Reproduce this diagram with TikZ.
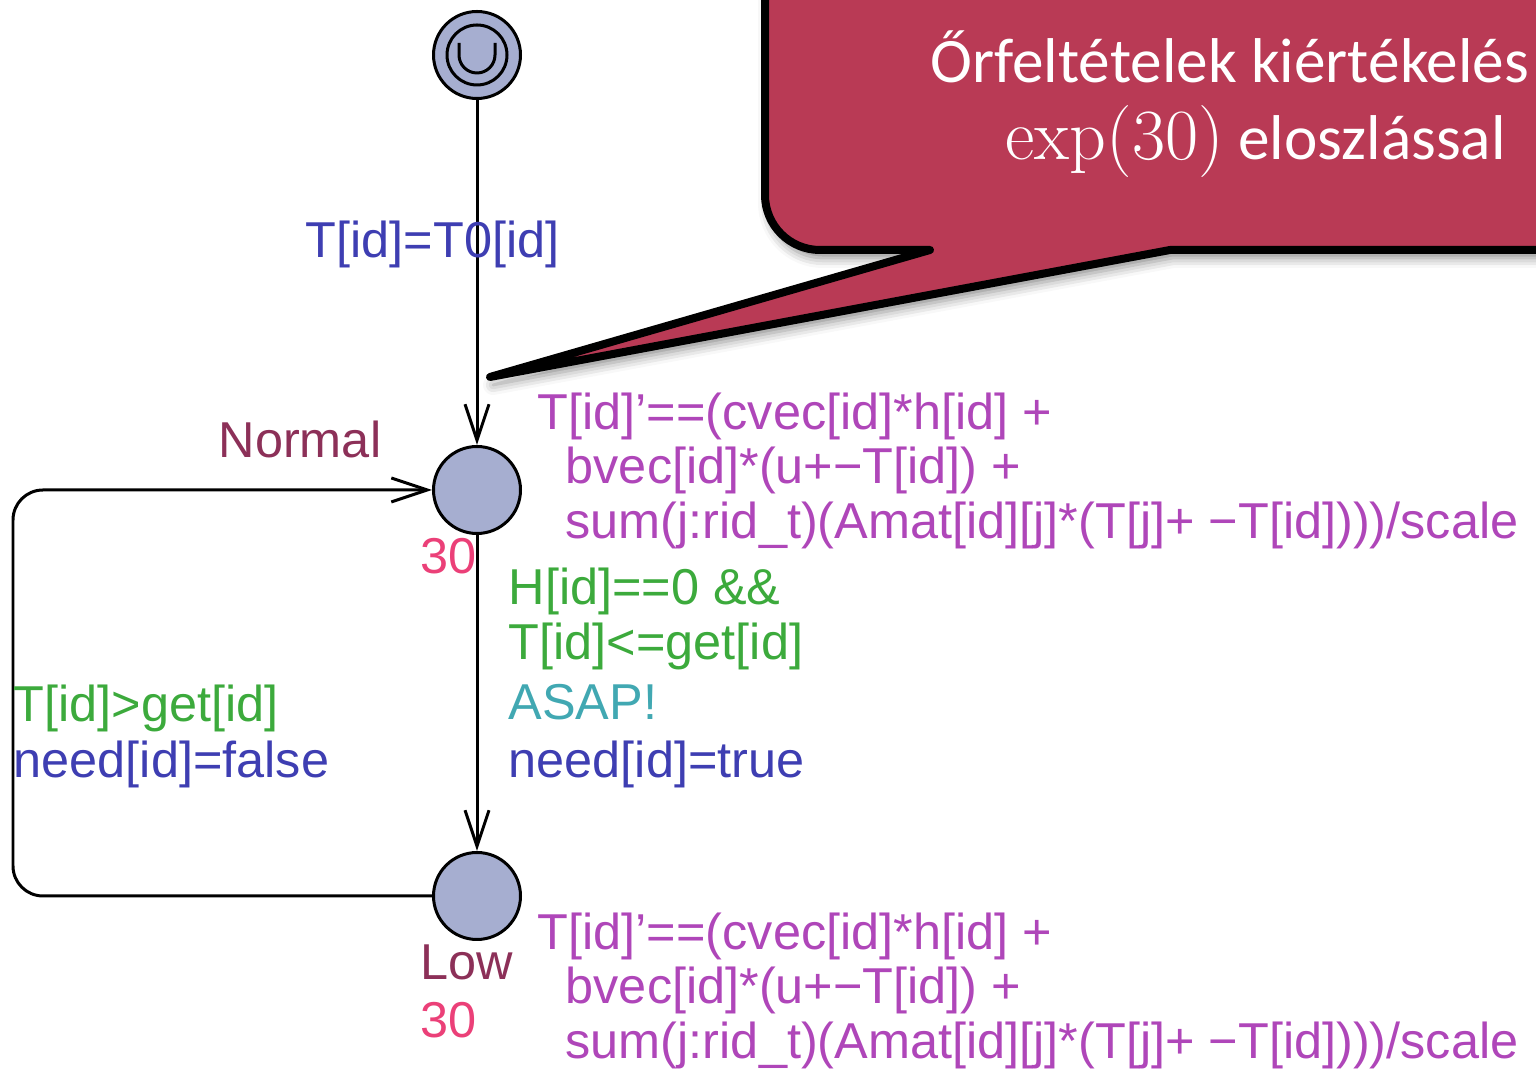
\documentclass[tikz,border=0pt]{standalone}
\usepackage{fontspec}
\newfontfamily\uppfont{Liberation Sans}
\newfontfamily\calloutfont{Carlito}
\usetikzlibrary{arrows.meta,positioning,shadows.blur}

\definecolor{locfill}{RGB}{166,174,208}
\definecolor{namecol}{RGB}{140,48,88}
\definecolor{ratecol}{RGB}{235,64,120}
\definecolor{invcol}{RGB}{175,70,185}
\definecolor{guardcol}{RGB}{60,170,60}
\definecolor{synccol}{RGB}{65,168,178}
\definecolor{updcol}{RGB}{62,62,178}
\definecolor{calloutred}{RGB}{185,58,85}

\tikzset{
  % locations of the automaton
  loc/.style={
    shape=circle, minimum size=8.7mm, inner sep=0pt,
    line width=0.3mm, draw=black, fill=locfill
  },
  % edges with open barbs
  edge/.style={
    line width=0.3mm, draw=black,
    -{Straight Barb[length=3.6mm,width=2.4mm,line width=0.3mm]}
  },
  % all texts sit on their baseline
  lbl/.style={anchor=base west, inner sep=0pt,
    font=\uppfont\fontsize{14.35}{15.8}\selectfont},
  locname/.style={lbl, text=namecol},
  rate/.style={lbl, text=ratecol},
  inv/.style={lbl, text=invcol},
  guard/.style={lbl, text=guardcol},
  sync/.style={lbl, text=synccol},
  upd/.style={lbl, text=updcol},
  % the speech bubble
  callout/.style={
    line width=0.8mm, draw=black, fill=calloutred, line join=round,
    blur shadow={shadow xshift=0.3mm, shadow yshift=-0.8mm,
      shadow blur radius=1mm, shadow opacity=45}
  },
  callouttext/.style={anchor=base west, inner sep=0pt, text=white,
    font=\calloutfont\fontsize{18}{22}\selectfont}
}

\begin{document}
\begin{tikzpicture}[x=0.1mm, y=-0.1mm]
  \useasboundingbox (0,0) rectangle (1536,1074);

  % locations
  \node[loc] (init) at (477,55) {};
  \draw[line width=0.3mm] (init.center) circle[radius=30];
  \draw[line width=0.3mm] (459,43) -- (459,55)
    arc[start angle=180, end angle=0, radius=18] -- (495,43);
  \node[loc] (normal) at (477,490) {};
  \node[loc] (low) at (477,896) {};

  % edges
  \coordinate (loopbot) at (13,896);
  \coordinate (looptop) at (13,490);
  \draw[edge] (init) -- (normal);
  \draw[edge] (normal) -- (low);
  \draw[edge, rounded corners=3mm] (low.west) -- (loopbot) -- (looptop) -- (normal.west);

  % labels of the initial edge and the locations
  \node[upd] (initupd) at (305,258) {T[id]=T0[id]};
  \node[locname] (normalname) at (218,458) {Normal};
  \node[rate] (normalrate) at (420,574) {30};
  \node[locname] (lowname) at (420,980) {Low};
  \node[rate] (lowrate) at (420,1038) {30};

  % invariants
  \foreach \l/\y in {normal/430, low/950} {
    \node[inv] (\l inva) at (537,\y) {T[id]’==(cvec[id]*h[id] +};
    \node[inv] (\l invb) at (565,\y+54) {bvec[id]*(u+−T[id]) +};
    \node[inv] (\l invc) at (565,\y+109) {sum(j:rid\_t)(Amat[id][j]*(T[j]+ −T[id])))/scale};
  }

  % normal -> low
  \node[guard] (downguarda) at (508,605) {H[id]==0 \&\&};
  \node[guard] (downguardb) at (508,660) {T[id]<=get[id]};
  \node[sync] (downsync) at (508,720) {ASAP!};
  \node[upd] (downupd) at (508,778) {need[id]=true};

  % low -> normal
  \node[guard] (upguard) at (13,722) {T[id]>get[id]};
  \node[upd] (upupd) at (13,778) {need[id]=false};

  % speech bubble
  \draw[callout] (765,-30) -- (765,195)
    arc[start angle=180, end angle=90, radius=55]
    -- (930,250) -- (490,377) -- (1170,250) -- (1560,250) -- (1560,-30) -- cycle;
  \node[callouttext] (bubblea) at (930,83) {Őrfeltételek kiértékelés};
  \node[callouttext] (bubbleb) at (1005,160)
    {{\rmfamily\fontsize{20.5}{22}\selectfont exp(30)} eloszlással};
\end{tikzpicture}
\end{document}
